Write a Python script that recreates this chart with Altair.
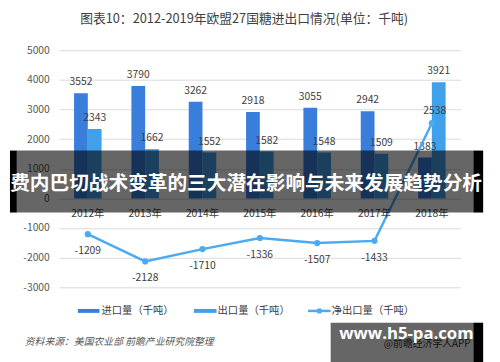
import altair as alt
import pandas as pd

FONT = "Noto Sans CJK SC"

years = ["2012年", "2013年", "2014年", "2015年", "2016年", "2017年", "2018年"]
imports = [3552, 3790, 3262, 2918, 3055, 2942, 1383]
exports = [2343, 1662, 1552, 1582, 1548, 1509, 3921]
net = [-1209, -2128, -1710, -1336, -1507, -1433, 2538]
series = ["进口量（千吨）", "出口量（千吨）", "净出口量（千吨）"]
colors = ["#3A7EDC", "#41A0EA", "#4BAAF2"]
y_ticks = [-3000, -2000, -1000, 0, 1000, 2000, 3000, 4000, 5000]

title_text = "图表10：2012-2019年欧盟27国糖进出口情况(单位：千吨)"
source_text = "资料来源：美国农业部 前瞻产业研究院整理"
banner_text = "费内巴切战术变革的三大潜在影响与未来发展趋势分析"
wm_text = "www.h5-pa.com"
wm_sub = "@前瞻经济学人APP"

bars_df = pd.DataFrame({
    "year": years * 2,
    "series": [series[0]] * len(years) + [series[1]] * len(years),
    "value": imports + exports,
})
net_df = pd.DataFrame({"year": years, "net": net})
year_df = pd.DataFrame({"year": years, "zero": [0] * len(years)})

x_scale = alt.Scale(domain=years, paddingInner=0.52, paddingOuter=0.26)
y_scale = alt.Scale(domain=[-3000, 5000], nice=False, zero=False)
y_axis = alt.Axis(values=y_ticks, grid=True, gridColor="#D9D9D9", gridWidth=1,
                  domain=False, ticks=False, labelPadding=10, labelFont=FONT,
                  labelFontSize=10.5, labelColor="#595959", title=None,
                  labelOverlap=False, labelExpr="toString(datum.value)")
x_enc = alt.X("year:N", scale=x_scale, axis=None, sort=years)
off_enc = alt.XOffset("series:N", sort=series[:2],
                      scale=alt.Scale(domain=series[:2], paddingInner=0, paddingOuter=0))


def yq(field):
    return alt.Y(field, type="quantitative", scale=y_scale, axis=y_axis)


bars = alt.Chart(bars_df).mark_bar().encode(
    x=x_enc,
    xOffset=off_enc,
    y=yq("value"),
    color=alt.Color("series:N", scale=alt.Scale(domain=series[:2], range=colors[:2]), legend=None),
)

bar_labels = alt.Chart(bars_df).transform_calculate(
    lab="toString(datum.value)"
).mark_text(
    font=FONT, fontSize=10.5, color="#404040", dy=-11, baseline="middle"
).encode(x=x_enc, xOffset=off_enc, y=yq("value"), text="lab:N")

line = alt.Chart(net_df).mark_line(color=colors[2], strokeWidth=2.5).encode(
    x=x_enc, y=yq("net"))
pts = alt.Chart(net_df).mark_point(filled=True, size=40, opacity=1, color=colors[2]).encode(
    x=x_enc, y=yq("net"))
net_lab_neg = alt.Chart(net_df).transform_filter("datum.net < 0").transform_calculate(
    lab="toString(datum.net)"
).mark_text(
    font=FONT, fontSize=10.5, color="#404040", dy=17, baseline="middle"
).encode(x=x_enc, y=yq("net"), text="lab:N")
net_lab_pos = alt.Chart(net_df).transform_filter("datum.net >= 0").transform_calculate(
    lab="toString(datum.net)"
).mark_text(
    font=FONT, fontSize=10.5, color="#404040", dy=-12, dx=3, baseline="middle"
).encode(x=x_enc, y=yq("net"), text="lab:N")

x_labels = alt.Chart(year_df).mark_text(
    font=FONT, fontSize=10.5, color="#404040", dy=16, baseline="middle"
).encode(x=x_enc, y=yq("zero"), text="year:N")


def one(text):
    return pd.DataFrame({"t": [text]})


title = alt.Chart(one(title_text)).mark_text(
    font=FONT, fontSize=13, color="#404040", align="center", baseline="middle"
).encode(x=alt.value(188), y=alt.value(-32), text="t:N")

source = alt.Chart(one(source_text)).mark_text(
    font=FONT, fontSize=10, color="#595959", align="left", baseline="middle", fontStyle="italic"
).encode(x=alt.value(-35), y=alt.value(297), text="t:N")

# legend
leg_y = 265
leg1_sw = alt.Chart(one(series[0])).mark_rect(color=colors[0]).encode(
    x=alt.value(19), x2=alt.value(41), y=alt.value(leg_y - 2), y2=alt.value(leg_y + 2))
leg1_tx = alt.Chart(one(series[0])).mark_text(
    font=FONT, fontSize=10.5, color="#404040", align="left", baseline="middle"
).encode(x=alt.value(43), y=alt.value(leg_y), text="t:N")
leg2_sw = alt.Chart(one(series[1])).mark_rect(color=colors[1]).encode(
    x=alt.value(137), x2=alt.value(160), y=alt.value(leg_y - 2), y2=alt.value(leg_y + 2))
leg2_tx = alt.Chart(one(series[1])).mark_text(
    font=FONT, fontSize=10.5, color="#404040", align="left", baseline="middle"
).encode(x=alt.value(161), y=alt.value(leg_y), text="t:N")
leg3_sw = alt.Chart(one(series[2])).mark_rule(color=colors[2], strokeWidth=2.5).encode(
    x=alt.value(253), x2=alt.value(276), y=alt.value(leg_y))
leg3_pt = alt.Chart(one(series[2])).mark_point(filled=True, size=30, opacity=1, color=colors[2]).encode(
    x=alt.value(264.5), y=alt.value(leg_y))
leg3_tx = alt.Chart(one(series[2])).mark_text(
    font=FONT, fontSize=10.5, color="#404040", align="left", baseline="middle"
).encode(x=alt.value(277), y=alt.value(leg_y), text="t:N")

# overlay banner
ban_gray = alt.Chart(one(banner_text)).mark_rect(color="black", opacity=0.6).encode(
    x=alt.value(-43), x2=alt.value(421), y=alt.value(102), y2=alt.value(165))
ban_l = alt.Chart(one(banner_text)).mark_rect(color="black").encode(
    x=alt.value(-50), x2=alt.value(-43), y=alt.value(102), y2=alt.value(165))
ban_r = alt.Chart(one(banner_text)).mark_rect(color="black").encode(
    x=alt.value(421), x2=alt.value(431), y=alt.value(102), y2=alt.value(165))
ban_tx = alt.Chart(one(banner_text)).mark_text(
    font=FONT, fontSize=20, fontWeight="bold", color="white", align="center", baseline="middle"
).encode(x=alt.value(190), y=alt.value(136), text="t:N")

# watermark box
wm_subtx = alt.Chart(one(wm_sub)).mark_text(
    font=FONT, fontSize=10, color="#333333", align="left", baseline="middle"
).encode(x=alt.value(330), y=alt.value(299), text="t:N")
wm_gray = alt.Chart(one(wm_text)).mark_rect(color="black", opacity=0.6).encode(
    x=alt.value(276), x2=alt.value(421), y=alt.value(277), y2=alt.value(320))
wm_r = alt.Chart(one(wm_text)).mark_rect(color="black").encode(
    x=alt.value(421), x2=alt.value(431), y=alt.value(277), y2=alt.value(320))
wm_tx = alt.Chart(one(wm_text)).mark_text(
    font="Open Sans", fontSize=17, fontWeight="bold", color="white", align="center", baseline="middle"
).encode(x=alt.value(353), y=alt.value(289), text="t:N")

chart = alt.layer(
    bars, bar_labels, line, pts, net_lab_neg, net_lab_pos, x_labels,
    title, source,
    leg1_sw, leg1_tx, leg2_sw, leg2_tx, leg3_sw, leg3_pt, leg3_tx,
    ban_gray, ban_l, ban_r, ban_tx,
    wm_subtx, wm_gray, wm_r, wm_tx,
).properties(
    width=408, height=241,
    padding={"left": 52, "top": 40, "right": 32, "bottom": 73},
    autosize=alt.AutoSizeParams(type="none"),
    background="white",
).configure_view(stroke=None)

chart.save("out.html", embed_options={"renderer": "svg", "actions": False})
